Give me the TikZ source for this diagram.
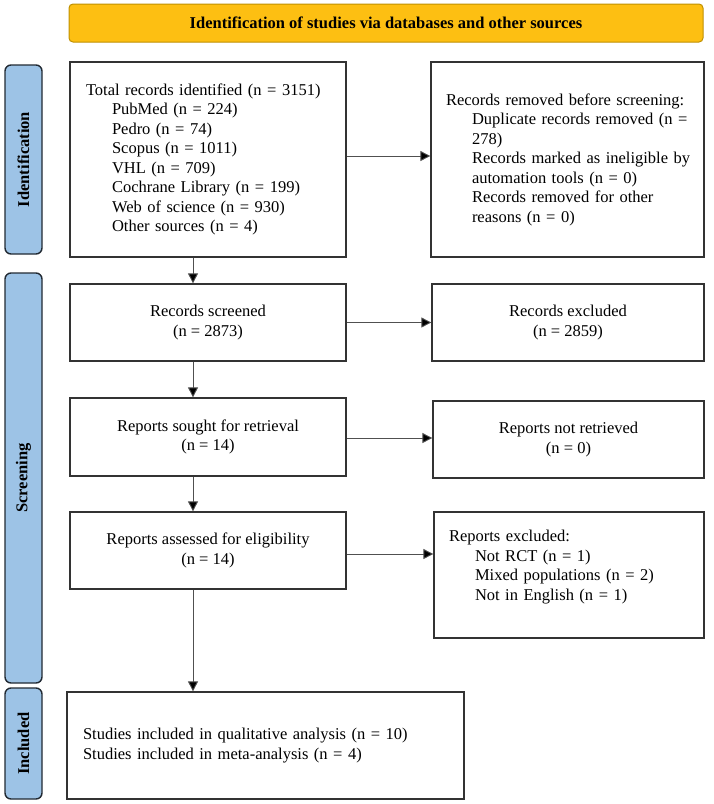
\documentclass[tikz,border=0pt]{standalone}
\usepackage{fontspec}
\setmainfont{Liberation Serif}
\usetikzlibrary{arrows.meta}
\definecolor{hdrfill}{HTML}{FDBF12}
\definecolor{hdrdraw}{HTML}{BF9000}
\definecolor{labfill}{HTML}{9DC3E6}
\definecolor{labdraw}{HTML}{222A33}
\definecolor{boxdraw}{HTML}{333333}
\definecolor{arrdraw}{HTML}{505050}
\newcommand{\ind}{\hspace*{26pt}}
\newcommand{\tline}[1]{\mbox{#1}}
\begin{document}
\begin{tikzpicture}[x=1pt,y=-1pt,
  every node/.style={font=\fontsize{16.5}{19.5}\selectfont},
  box/.style={draw=boxdraw, line width=1.3pt, fill=white, inner sep=0pt},
  cbox/.style={box, align=center},
  lbox/.style={box, align=left, inner xsep=16pt},
  sidelab/.style={draw=labdraw, line width=1.4pt, fill=labfill, rounded corners=6pt,
    rotate=90, minimum height=37pt, inner sep=0pt, font=\fontsize{16.5}{19.5}\selectfont\bfseries},
  arr/.style={draw=arrdraw, line width=0.9pt, -{Triangle[length=10pt,width=10pt,fill=black]}}]
\useasboundingbox (0,0) rectangle (713,804);

% header
\node[draw=hdrdraw, line width=1pt, fill=hdrfill, rounded corners=4pt,
  minimum width=634pt, minimum height=38pt, inner sep=0pt,
  font=\fontsize{16.5}{19.5}\selectfont\bfseries] (hdr) at (386,23)
  {Identification of studies via databases and other sources};

% side labels
\node[sidelab, minimum width=189pt] (idlab) at (23.5,159.5) {Identification};
\node[sidelab, minimum width=410pt] (scrlab) at (23.5,478) {Screening};
\node[sidelab, minimum width=111pt] (inclab) at (23.5,743.5) {Included};

% identification
\node[lbox, text width=244pt, minimum height=195pt] (idbox) at (208,159.5)
  {\tline{Total records identified (n = 3151)}\\
   \tline{\ind PubMed (n = 224)}\\
   \tline{\ind Pedro (n = 74)}\\
   \tline{\ind Scopus (n = 1011)}\\
   \tline{\ind VHL (n = 709)}\\
   \tline{\ind Cochrane Library (n = 199)}\\
   \tline{\ind Web of science (n = 930)}\\
   \tline{\ind Other sources (n = 4)}};
\node[lbox, inner xsep=15pt, text width=243pt, minimum height=195pt] (rmbox) at (567.5,159.5)
  {\tline{Records removed before screening:}\\
   \tline{\ind Duplicate records removed (n =}\\
   \tline{\ind 278)}\\
   \tline{\ind Records marked as ineligible by}\\
   \tline{\ind automation tools (n = 0)}\\
   \tline{\ind Records removed for other}\\
   \tline{\ind reasons (n = 0)}};

% screening
\node[cbox, minimum width=276pt, minimum height=77pt] (scrbox) at (208,322.5)
  {Records screened\\(n = 2873)};
\node[cbox, minimum width=272pt, minimum height=77pt] (excbox) at (568,322.5)
  {Records excluded\\(n = 2859)};
\node[cbox, minimum width=276pt, minimum height=78pt] (soughtbox) at (208,437)
  {Reports sought for retrieval\\(n = 14)};
\node[cbox, minimum width=271pt, minimum height=77pt] (notretbox) at (568.5,439.5)
  {Reports not retrieved\\(n = 0)};
\node[cbox, minimum width=276pt, minimum height=77pt] (assbox) at (208,550.5)
  {Reports assessed for eligibility\\(n = 14)};
\node[lbox, inner xsep=15pt, text width=240pt, minimum height=126pt] (repexcbox) at (569,575)
  {\tline{Reports excluded:}\\
   \tline{\ind Not RCT (n = 1)}\\
   \tline{\ind Mixed populations (n = 2)}\\
   \tline{\ind Not in English (n = 1)}\\
   \mbox{}};

% included
\node[lbox, text width=365pt, minimum height=107pt] (incbox) at (265.5,745.5)
  {\tline{Studies included in qualitative analysis (n = 10)}\\
   \tline{Studies included in meta-analysis (n = 4)}};

% connectors
\coordinate (ax) at (193,0);
\draw[arr] (ax |- idbox.south) -- (ax |- scrbox.north);
\draw[arr] (ax |- scrbox.south) -- (ax |- soughtbox.north);
\draw[arr] (ax |- soughtbox.south) -- (ax |- assbox.north);
\draw[arr] (ax |- assbox.south) -- (ax |- incbox.north);
\draw[arr] ([yshift=3.5pt]idbox.east) -- ([yshift=3.5pt]idbox.east -| rmbox.west);
\draw[arr] (scrbox.east) -- (scrbox.east -| excbox.west);
\draw[arr] ([yshift=-1pt]soughtbox.east) -- ([yshift=-1pt]soughtbox.east -| notretbox.west);
\draw[arr] ([yshift=-3.5pt]assbox.east) -- ([yshift=-3.5pt]assbox.east -| repexcbox.west);
\end{tikzpicture}
\end{document}
